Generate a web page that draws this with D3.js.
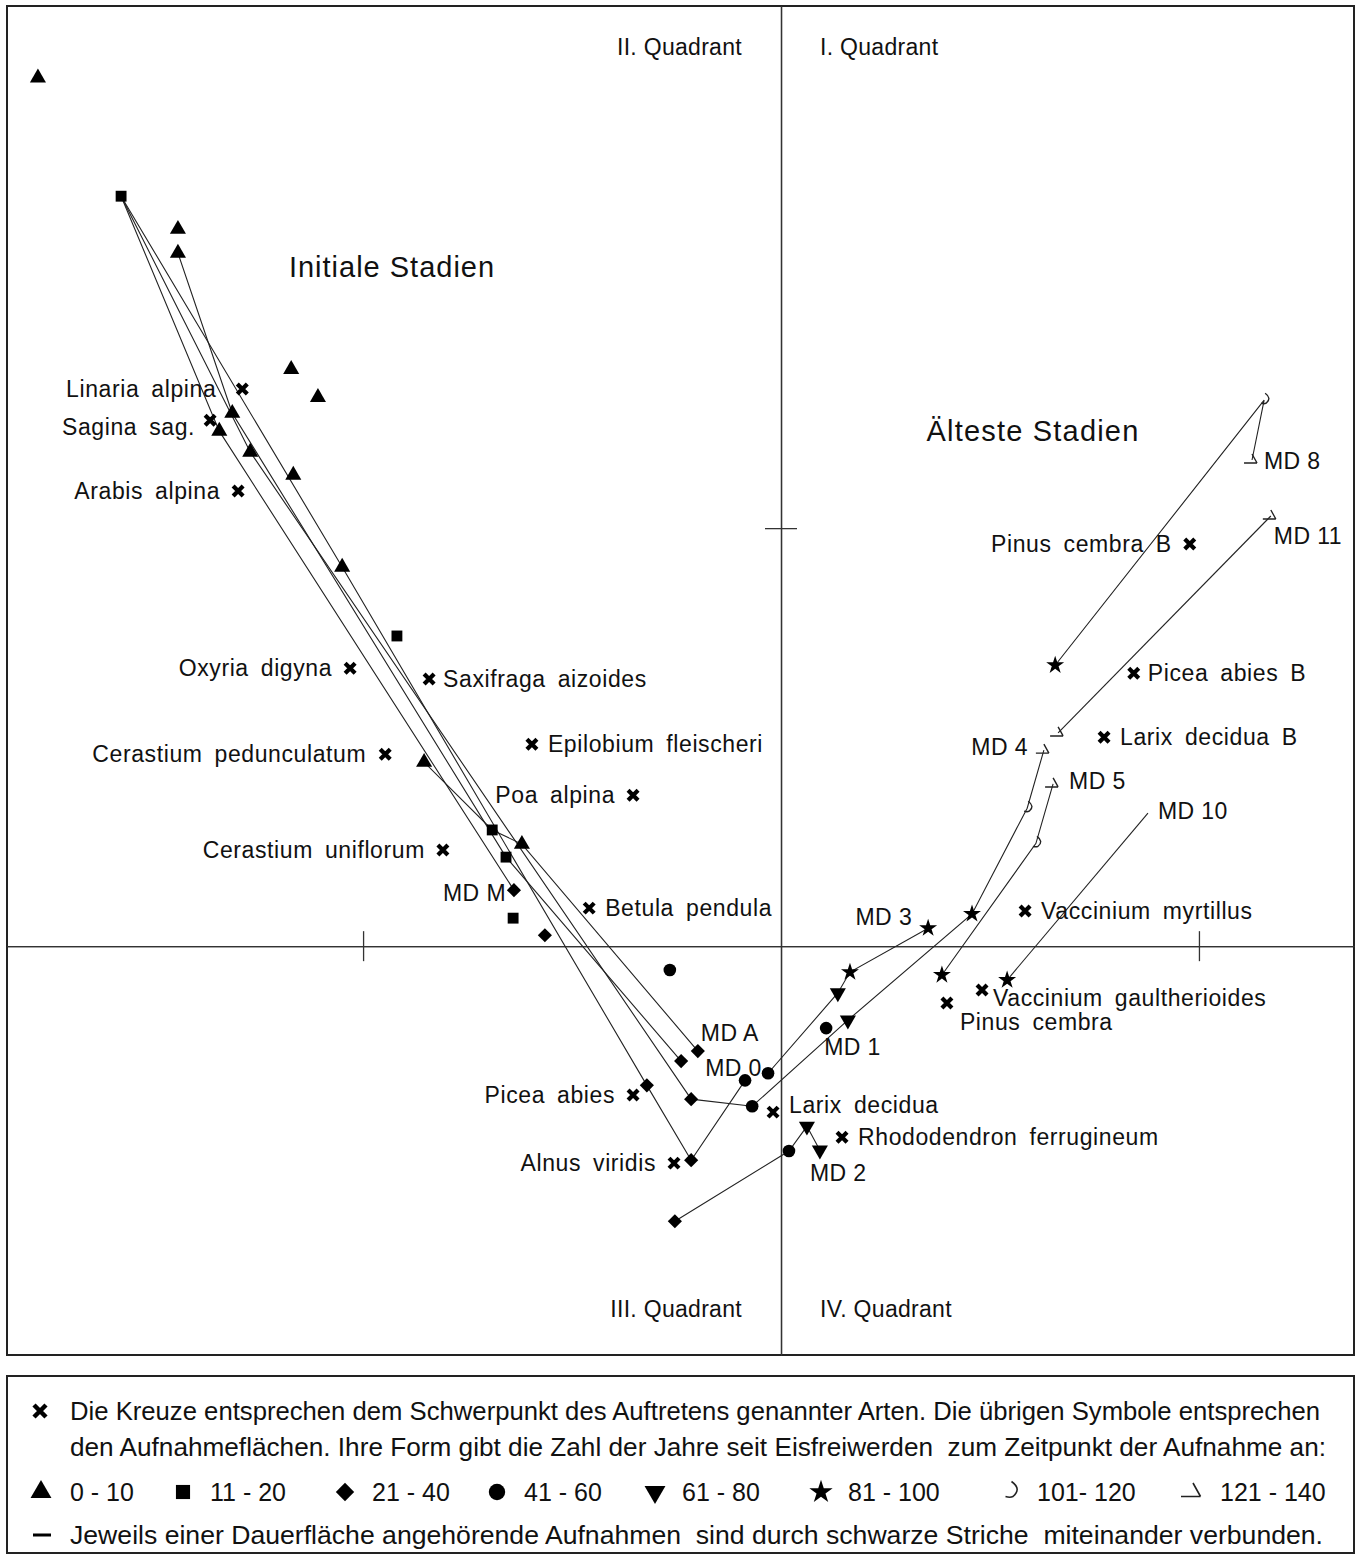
<!DOCTYPE html>
<html>
<head>
<meta charset="utf-8">
<script src="https://cdn.jsdelivr.net/npm/d3@7"></script>
<style>
  body { margin: 0; background: #fff; }
  svg text { font-family: "Liberation Sans", Arial, sans-serif; fill: #111; }
</style>
</head>
<body>
<svg id="chart" width="1357" height="1555"></svg>
<script>
// Altersklassen: Jahre seit Eisfreiwerden zum Zeitpunkt der Aufnahme
var ageClasses = ["0 - 10", "11 - 20", "21 - 40", "41 - 60", "61 - 80", "81 - 100", "101- 120", "121 - 140"];

// Aufnahmeflächen je Altersklasse: [id, Achse 1, Achse 2]
var samples0to10 = [
  ["A1", -1.778, 2.077], ["A2", -1.443, 1.715], ["A3", -1.443, 1.658], ["A4", -1.172, 1.380],
  ["A5", -1.108, 1.313], ["A6", -1.313, 1.275], ["A7", -1.344, 1.232], ["A8", -1.270, 1.182],
  ["A9", -1.167, 1.127], ["A10", -1.050, 0.907], ["A11", -0.854, 0.440], ["A12", -0.620, 0.244]
];
var samples11to20 = [
  ["B1", -1.579, 1.794], ["B2", -0.919, 0.742], ["B3", -0.691, 0.278], ["B4", -0.658, 0.213], ["B5", -0.641, 0.067]
];
var samples21to40 = [
  ["C1", -0.639, 0.134], ["C2", -0.565, 0.026], ["C3", -0.199, -0.251], ["C4", -0.239, -0.275],
  ["C5", -0.321, -0.333], ["C6", -0.215, -0.366], ["C7", -0.215, -0.512], ["C8", -0.254, -0.658]
];
var samples41to60 = [
  ["D1", -0.266, -0.057], ["D2", -0.086, -0.321], ["D3", -0.031, -0.304],
  ["D4", -0.069, -0.383], ["D5", 0.108, -0.196], ["D6", 0.019, -0.490]
];
var samples61to80 = [
  ["E1", 0.136, -0.112], ["E2", 0.160, -0.177], ["E3", 0.062, -0.431], ["E4", 0.093, -0.488]
];
var samples81to100 = [
  ["F1", 0.352, 0.043], ["F2", 0.457, 0.077], ["F3", 0.165, -0.062],
  ["F4", 0.385, -0.069], ["F5", 0.541, -0.081], ["F6", 0.656, 0.672]
];
var samples101to120 = [["G1", 1.156, 1.306], ["G2", 0.589, 0.330], ["G3", 0.610, 0.246]];
var samples121to140 = [
  ["H1", 1.127, 1.163], ["H2", 1.172, 1.029], ["H3", 0.663, 0.510], ["H4", 0.629, 0.469], ["H5", 0.651, 0.388]
];
// Endpunkt ohne Symbol (MD 10)
var unmarkedEnds = [["N1", 0.878, 0.318]];

// Dauerflächen: Aufnahmen in zeitlicher Folge
var trajectories = [
  ["MD A", ["A11", "B3", "A12", "C3"]],
  ["MD 0", ["A3", "A6", "B4", "C4"]],
  ["MD M", ["B1", "A7", "C1"]],
  ["MD 4", ["B1", "A8", "C6", "D4", "E2", "F2", "G2", "H4"]],
  ["MD x", ["B1", "A10", "C5", "C7", "D2"]],
  ["MD 3", ["D3", "E1", "F3", "F1"]],
  ["MD 2", ["C8", "D6", "E3", "E4"]],
  ["MD 5", ["F4", "G3", "H5"]],
  ["MD 10", ["F5", "N1"]],
  ["MD 8", ["F6", "G1", "H1"]],
  ["MD 11", ["H3", "H2"]]
];

// Beschriftung der Dauerflächen an einer Aufnahme
var plotLabels = [
  ["MD M", "C1"], ["MD A", "C3"], ["MD 0", "C4"], ["MD 1", "D5"], ["MD 2", "E4"], ["MD 3", "F1"],
  ["MD 4", "H4"], ["MD 5", "H5"], ["MD 10", "N1"], ["MD 8", "H1"], ["MD 11", "H2"]
];

// Schwerpunkte der Arten: [Name, Achse 1, Achse 2]
var species = [
  ["Linaria alpina", -1.289, 1.333],
  ["Sagina sag.", -1.366, 1.258],
  ["Arabis alpina", -1.299, 1.089],
  ["Oxyria digyna", -1.031, 0.665],
  ["Saxifraga aizoides", -0.842, 0.639],
  ["Cerastium pedunculatum", -0.947, 0.459],
  ["Epilobium fleischeri", -0.596, 0.483],
  ["Poa alpina", -0.354, 0.361],
  ["Cerastium uniflorum", -0.809, 0.230],
  ["Betula pendula", -0.459, 0.091],
  ["Picea abies", -0.354, -0.356],
  ["Alnus viridis", -0.256, -0.519],
  ["Larix decidua", -0.019, -0.397],
  ["Rhododendron ferrugineum", 0.146, -0.457],
  ["Pinus cembra", 0.397, -0.136],
  ["Vaccinium gaultherioides", 0.481, -0.105],
  ["Vaccinium myrtillus", 0.584, 0.084],
  ["Larix decidua B", 0.773, 0.500],
  ["Picea abies B", 0.844, 0.653],
  ["Pinus cembra B", 0.978, 0.962]
];

var quadrantNames = ["I. Quadrant", "II. Quadrant", "III. Quadrant", "IV. Quadrant"];
var legendLines = [
  "Die Kreuze entsprechen dem Schwerpunkt des Auftretens genannter Arten. Die übrigen Symbole entsprechen",
  "den Aufnahmeflächen. Ihre Form gibt die Zahl der Jahre seit Eisfreiwerden  zum Zeitpunkt der Aufnahme an:",
  "Jeweils einer Dauerfläche angehörende Aufnahmen  sind durch schwarze Striche  miteinander verbunden."
];

// ---- Layout (Pixel) ----
var speciesLabelLayout = [
  ["end", -26, 8], ["end", -15, 15], ["end", -18, 8], ["end", -18, 8], ["start", 14, 8],
  ["end", -19, 8], ["start", 16, 8], ["end", -18, 8], ["end", -18, 8], ["start", 16, 8],
  ["end", -18, 8], ["end", -18, 8], ["start", 16, 1], ["start", 16, 8], ["start", 13, 27],
  ["start", 11, 16], ["start", 16, 8], ["start", 16, 8], ["start", 14, 8], ["end", -18, 8]
];
var plotLabelLayout = {
  "MD M": ["end", -8, 11], "MD A": ["start", 3, -10], "MD 0": ["start", 24, 15],
  "MD 1": ["start", -2, 27], "MD 2": ["start", -10, 31], "MD 3": ["end", -16, -3],
  "MD 4": ["end", -16, 5], "MD 5": ["start", 16, 5], "MD 10": ["start", 10, 6],
  "MD 8": ["start", 12, 9], "MD 11": ["start", 3, 28]
};

var svg = d3.select("#chart");
var plot = { left: 7, top: 6, right: 1354, bottom: 1355 };

var x = d3.scaleLinear().domain([-1.852, 1.371]).range([plot.left, plot.right]);
var y = d3.scaleLinear().domain([-0.978, 2.249]).range([plot.bottom, plot.top]);

// alle Aufnahmen nach id
var groups = [samples0to10, samples11to20, samples21to40, samples41to60,
              samples61to80, samples81to100, samples101to120, samples121to140];
var byId = {};
groups.forEach(function (g, cls) {
  g.forEach(function (d) { byId[d[0]] = { x: d[1], y: d[2], cls: cls }; });
});
unmarkedEnds.forEach(function (d) { byId[d[0]] = { x: d[1], y: d[2], cls: -1 }; });

// Symbolformen
var symbolPath = function (cls, k) {
  k = k || 1;
  switch (cls) {
    case 0: return d3.symbol(d3.symbolTriangle, 112 * k * k)();
    case 1: return d3.symbol(d3.symbolSquare, 118 * k * k)();
    case 2: return d3.symbol(d3.symbolSquare, 100 * k * k)();
    case 3: return d3.symbol(d3.symbolCircle, 125 * k * k)();
    case 4: return d3.symbol(d3.symbolTriangle, 112 * k * k)();
    case 5: return d3.symbol(d3.symbolStar, 100 * k * k)();
    case 6: return "M" + (1 * k) + "," + (-7 * k) + " Q" + (8 * k) + "," + (-2 * k) + " " + (2 * k) + "," + (3 * k) +
                   " Q" + (0 * k) + "," + (4 * k) + " " + (-3 * k) + "," + (3 * k);
    case 7: return "M" + (-8 * k) + "," + (3 * k) + " L" + (5 * k) + "," + (3 * k) + " M" + (5 * k) + "," + (3 * k) +
                   " L" + (0 * k) + "," + (-6 * k);
  }
  return "";
};
var symbolRotate = function (cls) {
  if (cls === 2) return 45;
  if (cls === 4) return 180;
  return 0;
};
var crossPath = function (r) {
  return "M" + (-r) + "," + (-r) + "L" + r + "," + r + "M" + r + "," + (-r) + "L" + (-r) + "," + r;
};

// Rahmen
svg.append("rect")
  .attr("x", plot.left).attr("y", plot.top)
  .attr("width", plot.right - plot.left).attr("height", plot.bottom - plot.top)
  .attr("fill", "none").attr("stroke", "#222").attr("stroke-width", 2);

// Achsen durch den Ursprung
var axisStyle = function (g) {
  g.selectAll(".domain").attr("stroke", "#333").attr("stroke-width", 1.3);
  g.selectAll(".tick line").attr("stroke", "#333").attr("stroke-width", 1.3);
  g.selectAll(".tick text").remove();
};
svg.append("g").attr("transform", "translate(0," + y(0) + ")")
  .call(d3.axisBottom(x).tickValues([-1, 1]).tickSize(15).tickSizeOuter(0)).call(axisStyle);
svg.append("g").attr("transform", "translate(0," + y(0) + ")")
  .call(d3.axisTop(x).tickValues([-1, 1]).tickSize(15).tickSizeOuter(0)).call(axisStyle);
svg.append("g").attr("transform", "translate(" + x(0) + ",0)")
  .call(d3.axisRight(y).tickValues([1]).tickSize(16).tickSizeOuter(0)).call(axisStyle);
svg.append("g").attr("transform", "translate(" + x(0) + ",0)")
  .call(d3.axisLeft(y).tickValues([1]).tickSize(16).tickSizeOuter(0)).call(axisStyle);

// Quadranten
var qFont = 23;
svg.append("text").attr("x", x(0) + 39).attr("y", 55).attr("font-size", qFont).attr("letter-spacing", 0.3).text(quadrantNames[0]);
svg.append("text").attr("x", x(0) - 39).attr("y", 55).attr("font-size", qFont).attr("letter-spacing", 0.3).attr("text-anchor", "end").text(quadrantNames[1]);
svg.append("text").attr("x", x(0) - 39).attr("y", 1317).attr("font-size", qFont).attr("letter-spacing", 0.3).attr("text-anchor", "end").text(quadrantNames[2]);
svg.append("text").attr("x", x(0) + 39).attr("y", 1317).attr("font-size", qFont).attr("letter-spacing", 0.3).text(quadrantNames[3]);

svg.append("text").attr("x", 392).attr("y", 277).attr("font-size", 29).attr("letter-spacing", 1)
  .attr("text-anchor", "middle").text("Initiale Stadien");
svg.append("text").attr("x", 1033).attr("y", 441).attr("font-size", 29).attr("letter-spacing", 1.2)
  .attr("text-anchor", "middle").text("Älteste Stadien");

// Verbindungslinien
var line = d3.line()
  .x(function (id) { return x(byId[id].x); })
  .y(function (id) { return y(byId[id].y); });

svg.append("g").selectAll("path")
  .data(trajectories)
  .enter().append("path")
  .attr("d", function (d) { return line(d[1]); })
  .attr("fill", "none").attr("stroke", "#222").attr("stroke-width", 1.1);

// Aufnahmen
var marks = [];
groups.forEach(function (g, cls) { g.forEach(function (d) { marks.push({ id: d[0], cls: cls }); }); });

svg.append("g").selectAll("path")
  .data(marks)
  .enter().append("path")
  .attr("transform", function (d) {
    return "translate(" + x(byId[d.id].x) + "," + y(byId[d.id].y) + ") rotate(" + symbolRotate(d.cls) + ")";
  })
  .attr("d", function (d) { return symbolPath(d.cls); })
  .attr("fill", function (d) { return d.cls >= 6 ? "none" : "#000"; })
  .attr("stroke", function (d) { return d.cls >= 6 ? "#222" : "none"; })
  .attr("stroke-width", 1.4);

// Arten
var sp = svg.append("g").selectAll("g")
  .data(species)
  .enter().append("g")
  .attr("transform", function (d) { return "translate(" + x(d[1]) + "," + y(d[2]) + ")"; });

sp.append("path").attr("d", crossPath(5))
  .attr("stroke", "#000").attr("stroke-width", 4.2).attr("fill", "none");

sp.append("text")
  .attr("font-size", 23).attr("letter-spacing", 0.6).attr("word-spacing", 5)
  .attr("text-anchor", function (d, i) { return speciesLabelLayout[i][0]; })
  .attr("x", function (d, i) { return speciesLabelLayout[i][1]; })
  .attr("y", function (d, i) { return speciesLabelLayout[i][2]; })
  .text(function (d) { return d[0]; });

// Dauerflächen-Beschriftung
svg.append("g").selectAll("text")
  .data(plotLabels)
  .enter().append("text")
  .attr("font-size", 23).attr("letter-spacing", 0.4)
  .attr("text-anchor", function (d) { return plotLabelLayout[d[0]][0]; })
  .attr("x", function (d) { return x(byId[d[1]].x) + plotLabelLayout[d[0]][1]; })
  .attr("y", function (d) { return y(byId[d[1]].y) + plotLabelLayout[d[0]][2]; })
  .text(function (d) { return d[0]; });

// ---- Legende ----
var legend = svg.append("g");
legend.append("rect")
  .attr("x", 7).attr("y", 1376).attr("width", 1347).attr("height", 177)
  .attr("fill", "none").attr("stroke", "#222").attr("stroke-width", 2);

legend.append("path").attr("transform", "translate(40,1411)").attr("d", crossPath(6))
  .attr("stroke", "#000").attr("stroke-width", 4.5).attr("fill", "none");

var legendTextX = 70;
legend.append("text").attr("x", legendTextX).attr("y", 1420).attr("font-size", 25)
  .attr("textLength", 1250).attr("lengthAdjust", "spacingAndGlyphs").text(legendLines[0]);
legend.append("text").attr("x", legendTextX).attr("y", 1456).attr("font-size", 25)
  .attr("textLength", 1256).attr("lengthAdjust", "spacingAndGlyphs").style("white-space", "pre").text(legendLines[1]);
legend.append("text").attr("x", legendTextX).attr("y", 1544).attr("font-size", 25)
  .attr("textLength", 1253).attr("lengthAdjust", "spacingAndGlyphs").style("white-space", "pre").text(legendLines[2]);

legend.append("line").attr("x1", 33).attr("x2", 51).attr("y1", 1535).attr("y2", 1535)
  .attr("stroke", "#000").attr("stroke-width", 3);

var legendSymX = [41, 183, 345, 497, 655, 821, 1010, 1193];
var legendItem = legend.selectAll("g.item")
  .data(ageClasses)
  .enter().append("g").attr("class", "item")
  .attr("transform", function (d, i) { return "translate(" + legendSymX[i] + ",1492)"; });

legendItem.append("path")
  .attr("transform", function (d, i) { return "rotate(" + symbolRotate(i) + ")"; })
  .attr("d", function (d, i) { return symbolPath(i, i >= 6 ? 1.5 : 1.3); })
  .attr("fill", function (d, i) { return i >= 6 ? "none" : "#000"; })
  .attr("stroke", function (d, i) { return i >= 6 ? "#222" : "none"; })
  .attr("stroke-width", 1.6);

legendItem.append("text")
  .attr("x", function (d, i) { return i === 0 ? 29 : 27; })
  .attr("y", 9).attr("font-size", 25)
  .text(function (d) { return d; });
</script>
</body>
</html>
